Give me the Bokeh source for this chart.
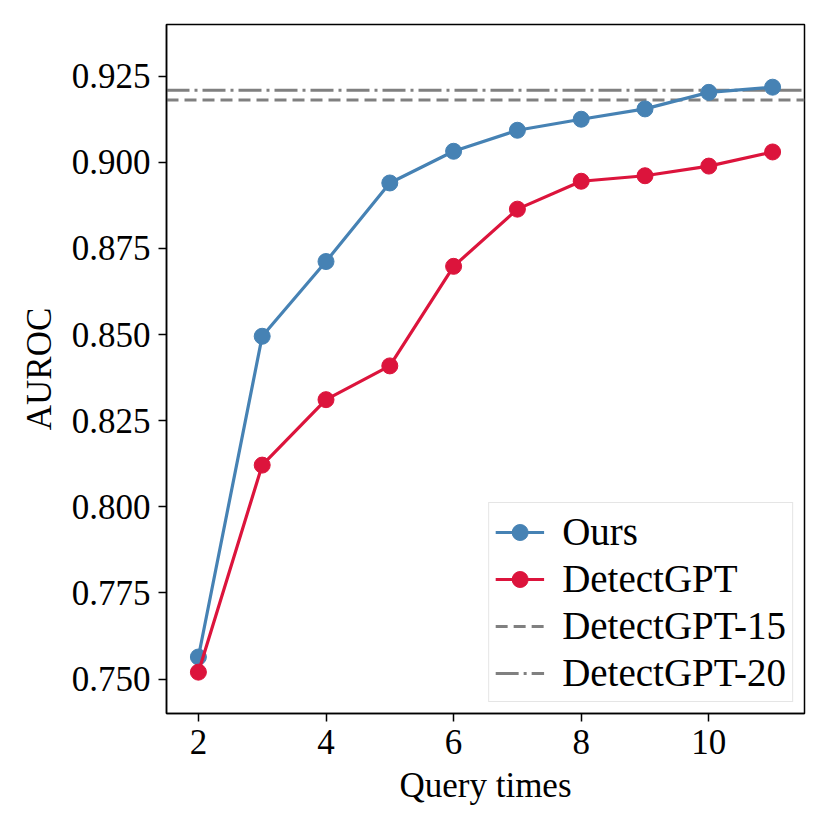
from bokeh.plotting import figure
from bokeh.models import FixedTicker, NumeralTickFormatter, Legend, LegendItem
from bokeh.embed import file_html
from bokeh.resources import INLINE

query_times = [2, 3, 4, 5, 6, 7, 8, 9, 10, 11]
ours = [0.7564, 0.8495, 0.8712, 0.8940, 0.9032, 0.9093, 0.9125, 0.9155, 0.9203, 0.9218]
detectgpt = [0.7520, 0.8121, 0.8311, 0.8409, 0.8698, 0.8864, 0.8945, 0.8961, 0.8989, 0.9030]
detectgpt_15 = 0.9181
detectgpt_20 = 0.9209
x_limits = (1.5, 11.5)
y_limits = (0.74, 0.94)
x_ticks = [2, 4, 6, 8, 10]
y_ticks = [0.750, 0.775, 0.800, 0.825, 0.850, 0.875, 0.900, 0.925]

FONT = "Liberation Serif"
FS = "35px"

p = figure(frame_width=638, frame_height=689,
           x_range=x_limits, y_range=y_limits,
           output_backend="svg", toolbar_location=None,
           min_border_left=166, min_border_top=24, min_border_right=10, min_border_bottom=100)

p.grid.visible = False
p.outline_line_color = "black"
p.outline_line_width = 1.5
p.background_fill_color = "white"
p.border_fill_color = "white"

for ax in (p.xaxis[0], p.yaxis[0]):
    ax.axis_line_width = 1.5
    ax.major_tick_line_width = 1.5
    ax.major_tick_out = 8
    ax.major_tick_in = 0
    ax.minor_tick_line_color = None
    ax.major_label_text_font = FONT
    ax.major_label_text_font_size = FS
    ax.axis_label_text_font = FONT
    ax.axis_label_text_font_size = FS
    ax.axis_label_text_font_style = "normal"
    ax.major_label_text_color = "black"
    ax.axis_label_text_color = "black"

p.xaxis.ticker = FixedTicker(ticks=x_ticks)
p.yaxis.ticker = FixedTicker(ticks=y_ticks)
p.yaxis.formatter = NumeralTickFormatter(format="0.000")
p.xaxis.axis_label = "Query times"
p.yaxis.axis_label = "AUROC"
p.xaxis.major_label_standoff = 8
p.yaxis.major_label_standoff = 8
p.xaxis.axis_label_standoff = 9
p.yaxis.axis_label_standoff = 10

r15 = p.line(x=list(x_limits), y=[detectgpt_15, detectgpt_15], line_color="#808080",
             line_width=3, line_dash="12 6")
r20 = p.line(x=list(x_limits), y=[detectgpt_20, detectgpt_20], line_color="#808080",
             line_width=3, line_dash="23 5 3 5")

ro_l = p.line(query_times, ours, line_color="#4682B4", line_width=3.2)
ro_s = p.scatter(query_times, ours, size=16, fill_color="#4682B4", line_color="#4682B4")
rd_l = p.line(query_times, detectgpt, line_color="#DC143C", line_width=3.2)
rd_s = p.scatter(query_times, detectgpt, size=16, fill_color="#DC143C", line_color="#DC143C")

legend = Legend(items=[
    LegendItem(label="Ours", renderers=[ro_l, ro_s]),
    LegendItem(label="DetectGPT", renderers=[rd_l, rd_s]),
    LegendItem(label="DetectGPT-15", renderers=[r15]),
    LegendItem(label="DetectGPT-20", renderers=[r20]),
], location="bottom_right")
legend.label_text_font = FONT
legend.label_text_font_size = "39px"
legend.label_text_color = "black"
legend.glyph_width = 49
legend.glyph_height = 40
legend.label_height = 40
legend.spacing = 2
legend.label_standoff = 18
legend.padding = 6
legend.margin = 11
legend.border_line_color = "#cccccc"
legend.border_line_width = 1.5
legend.background_fill_alpha = 0.8
p.add_layout(legend, "center")

open("out.html", "w").write(file_html(p, INLINE))
